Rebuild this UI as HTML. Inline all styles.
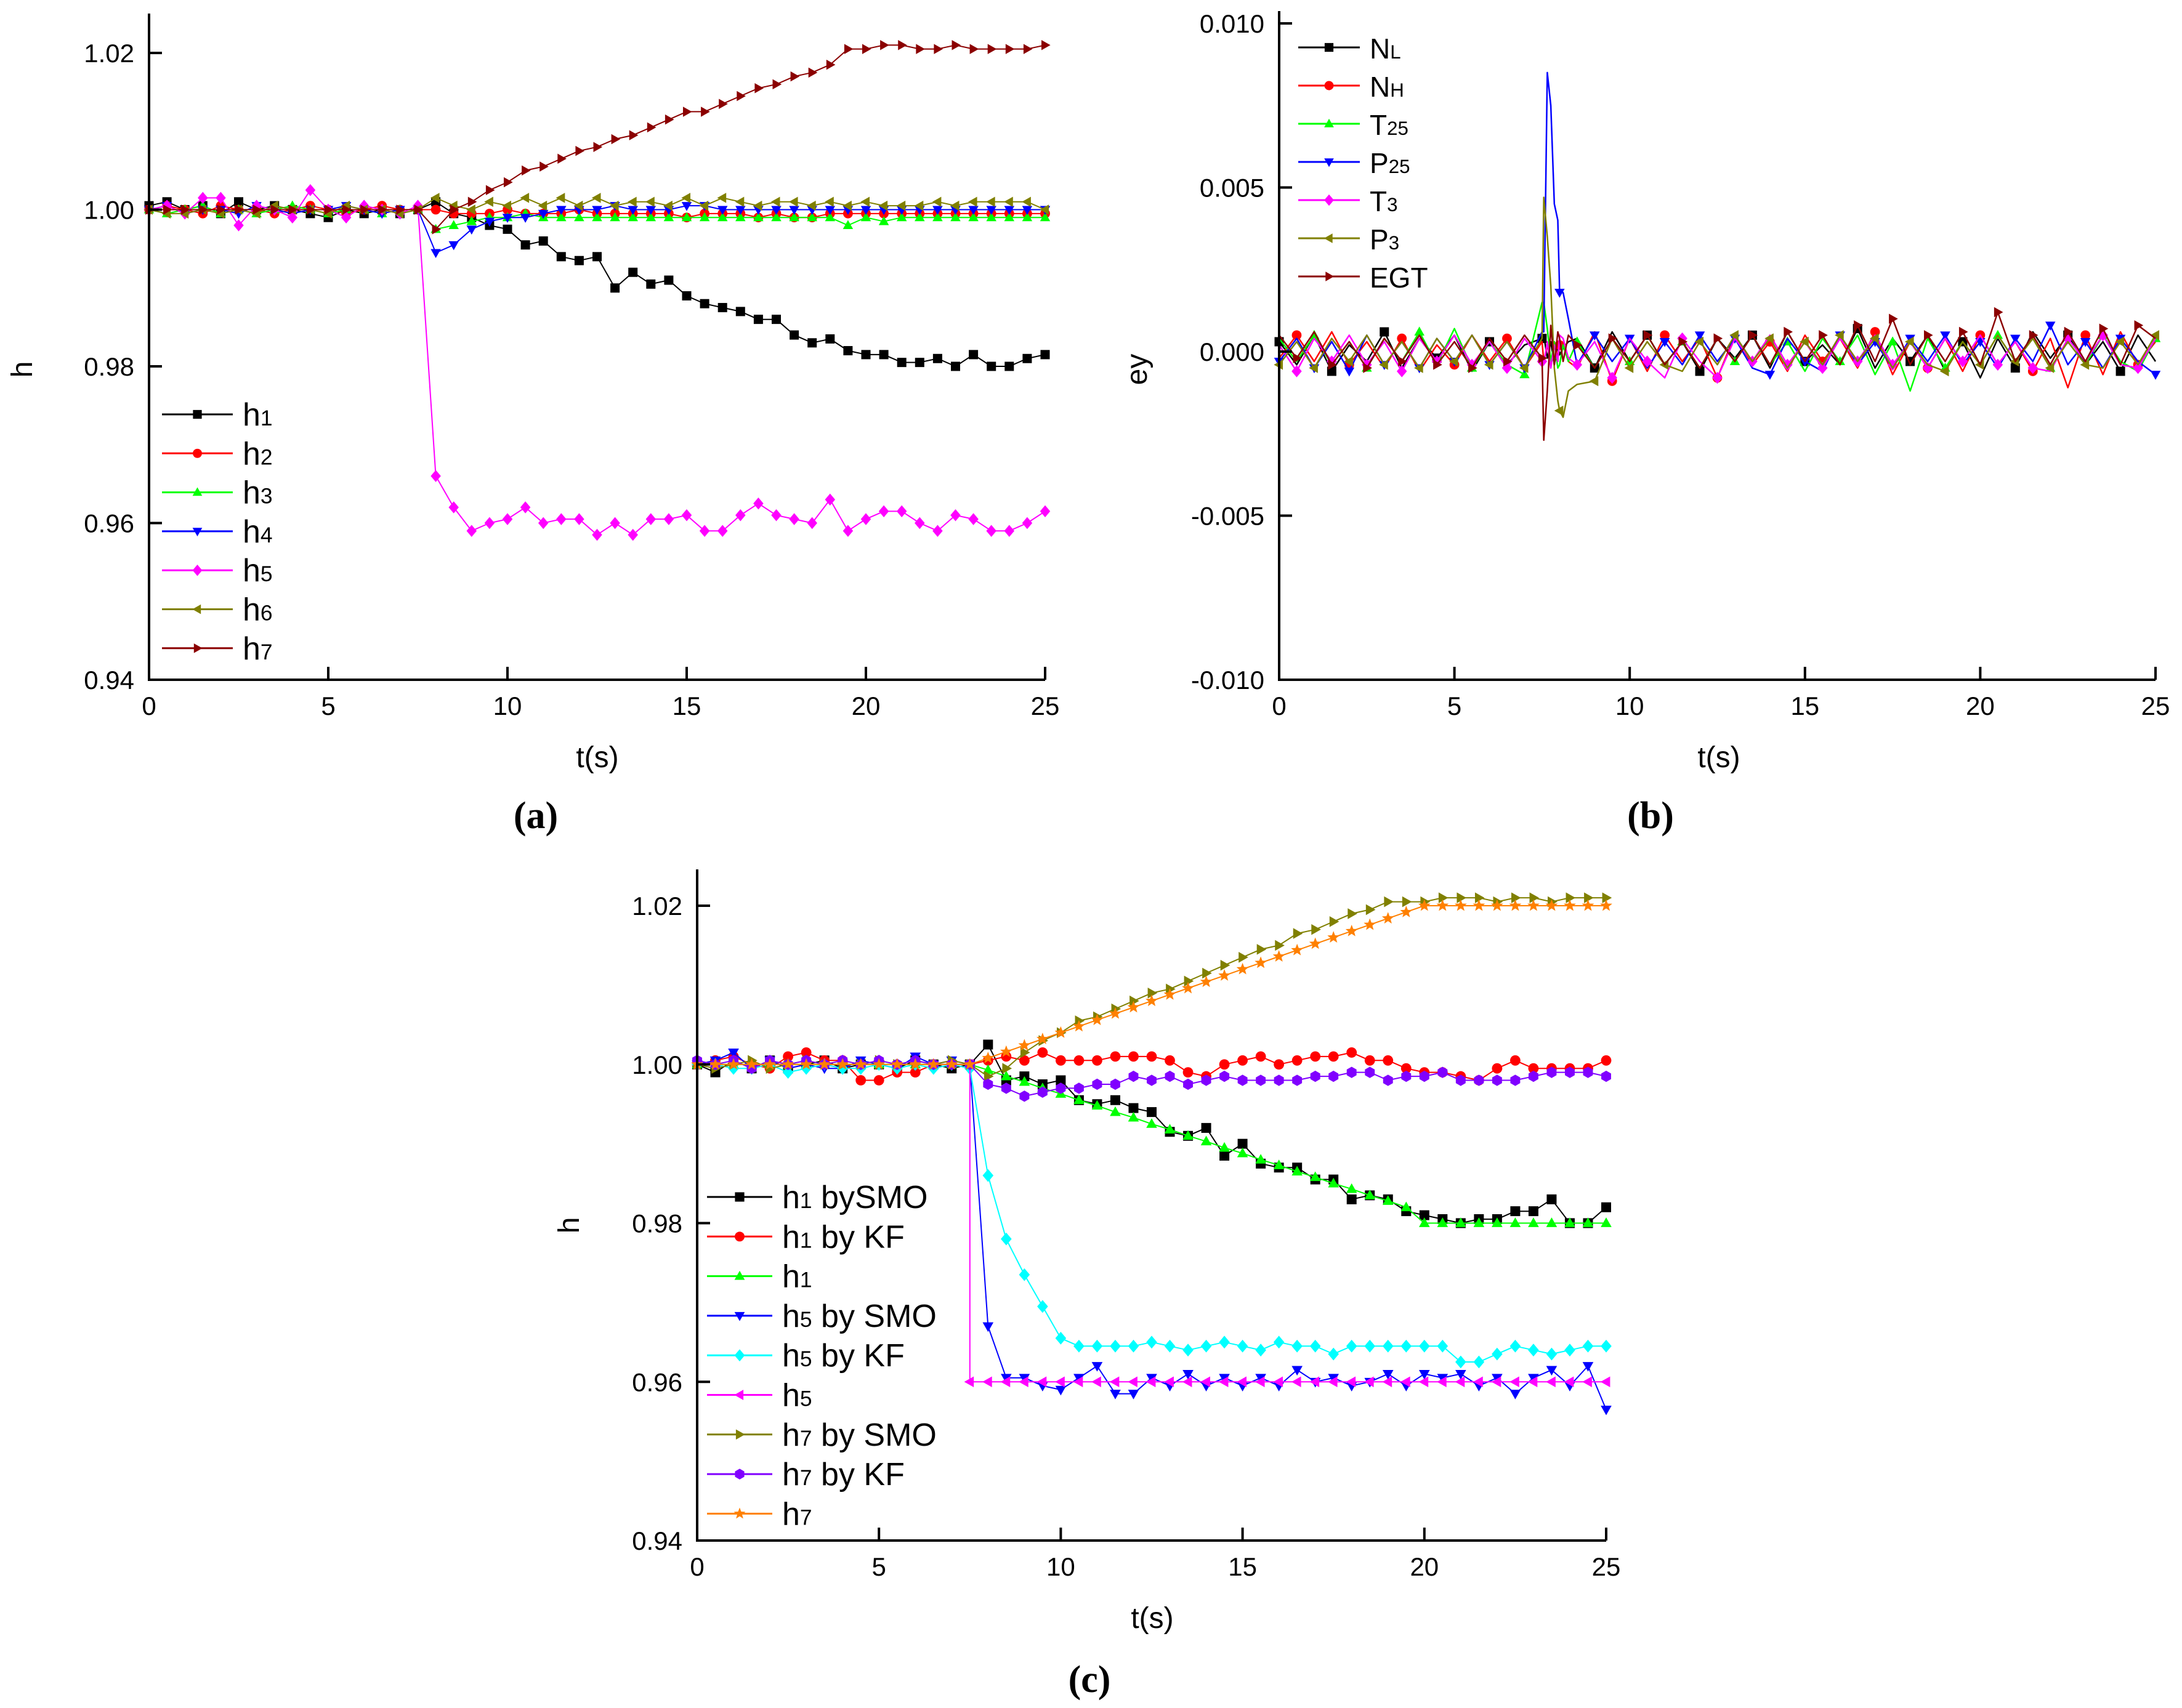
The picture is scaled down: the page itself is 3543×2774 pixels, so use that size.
<!DOCTYPE html>
<html><head><meta charset="utf-8">
<style>
html,body{margin:0;padding:0;background:#fff;}
svg{display:block;font-family:"Liberation Sans",sans-serif;}
</style></head>
<body>
<svg id="fig" width="3543" height="2774" viewBox="0 0 3543 2774" xmlns="http://www.w3.org/2000/svg">
<rect x="0" y="0" width="3543" height="2774" fill="#fff"/>
</svg>
<script>
// ---------- shared categories ----------
const xTicks = [0, 5, 10, 15, 20, 25];
const xTickLabels = ["0", "5", "10", "15", "20", "25"];
const hTicks = [0.94, 0.96, 0.98, 1.00, 1.02];
const hTickLabels = ["0.94", "0.96", "0.98", "1.00", "1.02"];
const eyTicks = [-0.010, -0.005, 0.000, 0.005, 0.010];
const eyTickLabels = ["-0.010", "-0.005", "0.000", "0.005", "0.010"];
// time samples every 0.5 s (0..25)
const tSamples = [0,0.5,1,1.5,2,2.5,3,3.5,4,4.5,5,5.5,6,6.5,7,7.5,8,8.5,9,9.5,10,10.5,11,11.5,12,12.5,13,13.5,14,14.5,15,15.5,16,16.5,17,17.5,18,18.5,19,19.5,20,20.5,21,21.5,22,22.5,23,23.5,24,24.5,25];

// ---------- panel (a) values ----------
const aH1 = [1.0005,1.001,1.0,1.0005,0.9995,1.001,1.0,1.0005,1.0,0.9995,0.999,1.0,0.9995,1.0,0.9995,1.0,1.001,0.9995,0.999,0.998,0.9975,0.9955,0.996,0.994,0.9935,0.994,0.990,0.992,0.9905,0.991,0.989,0.988,0.9875,0.987,0.986,0.986,0.984,0.983,0.9835,0.982,0.9815,0.9815,0.9805,0.9805,0.981,0.980,0.9815,0.980,0.980,0.981,0.9815];
const aH2 = [1.0,1.0005,1.0,0.9995,1.0005,1.0,1.0,0.9995,1.0,1.0005,1.0,0.9995,1.0,1.0005,1.0,1.0,1.0,0.9995,0.9995,0.9995,1.0,0.9995,0.9995,0.9995,1.0,0.9995,0.9995,0.9995,0.9995,0.9995,0.999,0.9995,0.9995,0.9995,0.999,0.9995,0.999,0.999,0.9995,0.9995,0.9995,0.9995,0.9995,0.9995,0.9995,0.9995,0.9995,0.9995,0.9995,0.9995,0.9995];
const aH3 = [1.0,0.9995,1.0,1.0005,0.9995,1.0,0.9995,1.0,1.0005,1.0,0.9995,1.0,1.0,0.9995,1.0,1.0,0.9975,0.998,0.9985,0.999,0.999,0.9995,0.999,0.999,0.999,0.999,0.999,0.999,0.999,0.999,0.999,0.999,0.999,0.999,0.999,0.999,0.999,0.999,0.999,0.998,0.999,0.9985,0.999,0.999,0.999,0.999,0.999,0.999,0.999,0.999,0.999];
const aH4 = [1.0,1.0005,0.9995,1.0,1.0,0.9995,1.0005,1.0,0.9995,1.0,1.0,1.0005,1.0,0.9995,1.0,1.0,0.9945,0.9955,0.9975,0.9985,0.999,0.999,0.9995,1.0,1.0,1.0,1.0005,1.0,1.0,1.0,1.0005,1.0005,1.0,1.0,1.0,1.0,1.0,1.0,1.0,1.0,1.0,1.0,1.0,1.0,1.0,1.0,1.0,1.0,1.0,1.0,1.0];
const aH5 = [1.0,1.0005,0.9995,1.0015,1.0015,0.998,1.0005,1.0,0.999,1.0025,1.0,0.999,1.0005,1.0,0.9995,1.0005,0.966,0.962,0.959,0.960,0.9605,0.962,0.960,0.9605,0.9605,0.9585,0.960,0.9585,0.9605,0.9605,0.961,0.959,0.959,0.961,0.9625,0.961,0.9605,0.960,0.963,0.959,0.9605,0.9615,0.9615,0.960,0.959,0.961,0.9605,0.959,0.959,0.960,0.9615];
const aH6 = [1.0,0.9995,0.9995,1.0,0.9995,1.0,0.9995,1.0005,1.0,1.0,0.9995,1.0005,1.0,1.0,0.9995,1.0,1.0015,1.0005,1.0,1.001,1.0005,1.0015,1.0005,1.0015,1.0005,1.0015,1.0005,1.001,1.001,1.0005,1.0015,1.0005,1.0015,1.001,1.0005,1.001,1.001,1.0005,1.001,1.0005,1.001,1.0005,1.0005,1.0005,1.001,1.0005,1.001,1.001,1.001,1.001,1.0];
const aH7 = [1.0,1.0,1.0,1.0,1.0,1.0,1.0,1.0,1.0,1.0,1.0,1.0,1.0,1.0,1.0,1.0,0.9975,1.0,1.001,1.0025,1.0035,1.005,1.0055,1.0065,1.0075,1.008,1.009,1.0095,1.0105,1.0115,1.0125,1.0125,1.0135,1.0145,1.0155,1.016,1.017,1.0175,1.0185,1.0205,1.0205,1.021,1.021,1.0205,1.0205,1.021,1.0205,1.0205,1.0205,1.0205,1.021];

// ---------- panel (b) values ----------
const bNL  = [0.0003,-0.0004,0.0005,-0.0006,0.0002,-0.0003,0.0006,-0.0005,0.0004,-0.0002,0.0005,-0.0006,0.0003,-0.0004,0.0002,0.0004,-0.0001,0.0004,-0.0005,0.0006,-0.0003,0.0005,-0.0004,0.0003,-0.0006,0.0004,-0.0002,0.0005,-0.0005,0.0006,-0.0003,0.0002,-0.0004,0.0007,-0.0005,0.0004,-0.0003,0.0005,-0.0006,0.0003,-0.0008,0.0004,-0.0005,0.0006,-0.0002,0.0005,-0.0004,0.0003,-0.0006,0.0005,-0.0003];
const bNH  = [-0.0002,0.0005,-0.0003,0.0006,-0.0004,0.0003,-0.0005,0.0004,-0.0006,0.0002,-0.0004,0.0005,-0.0003,0.0004,-0.0005,0.0003,0.0002,-0.0005,0.0006,-0.0009,0.0004,-0.0006,0.0005,-0.0003,0.0004,-0.0008,0.0005,-0.0004,0.0003,-0.0006,0.0005,-0.0003,0.0004,-0.0005,0.0006,-0.0007,0.0003,-0.0005,0.0004,-0.0006,0.0005,-0.0004,0.0003,-0.0006,0.0004,-0.0011,0.0005,-0.0007,0.0006,-0.0004,0.0003];
const bT25 = [0.0004,-0.0003,0.0005,-0.0004,0.0003,-0.0005,0.0004,-0.0003,0.0006,-0.0004,0.0007,-0.0005,0.0003,-0.0004,-0.0007,0.0015,-0.0004,0.0003,-0.0005,0.0004,-0.0003,0.0005,-0.0004,0.0003,-0.0005,0.0004,-0.0003,0.0005,-0.0004,0.0003,-0.0006,0.0004,-0.0003,0.0005,-0.0007,0.0003,-0.0012,0.0004,-0.0005,0.0003,-0.0004,0.0005,-0.0003,0.0004,-0.0005,0.0003,-0.0004,0.0005,-0.0003,-0.0006,0.0004];
const bP25 = [-0.0003,0.0004,-0.0005,0.0003,-0.0006,0.0005,-0.0004,0.0003,-0.0005,0.0004,-0.0003,0.0005,-0.0004,0.0003,-0.0005,0.0006,0.0018,-0.0004,0.0005,-0.0003,0.0004,-0.0005,0.0003,-0.0004,0.0005,-0.0003,0.0004,-0.0005,-0.0007,0.0004,-0.0003,-0.0006,0.0005,-0.0004,0.0003,-0.0005,0.0004,-0.0003,0.0005,-0.0004,0.0003,-0.0005,0.0004,-0.0003,0.0008,-0.0004,0.0003,-0.0005,0.0004,-0.0003,-0.0007];
const bT3  = [0.0002,-0.0006,0.0004,-0.0003,0.0005,-0.0004,0.0003,-0.0006,0.0004,-0.0003,0.0005,-0.0004,0.0003,-0.0005,0.0004,-0.0003,0.0005,-0.0004,0.0003,-0.0008,0.0004,-0.0003,-0.0008,0.0004,-0.0003,-0.0008,0.0004,-0.0003,0.0005,-0.0004,0.0003,-0.0005,0.0004,-0.0003,0.0005,-0.0004,0.0003,-0.0005,0.0004,-0.0003,0.0005,-0.0004,0.0003,-0.0005,-0.0006,0.0004,-0.0003,0.0005,-0.0004,-0.0005,0.0004];
const bP3  = [-0.0004,0.0003,-0.0005,0.0004,-0.0003,0.0005,-0.0004,0.0003,-0.0005,0.0004,-0.0003,0.0005,-0.0004,0.0003,-0.0005,0.0004,-0.0018,-0.0010,-0.0009,0.0004,-0.0005,0.0003,-0.0004,-0.0006,0.0003,-0.0004,0.0005,-0.0003,0.0004,-0.0005,0.0003,-0.0004,0.0005,-0.0003,0.0004,-0.0005,0.0003,-0.0004,-0.0006,0.0003,-0.0004,0.0005,-0.0003,0.0004,-0.0005,0.0003,-0.0004,-0.0005,0.0003,-0.0004,0.0005];
const bEGT = [0.0005,-0.0002,0.0006,-0.0004,0.0003,-0.0005,0.0004,-0.0003,0.0005,-0.0004,0.0003,-0.0005,0.0004,-0.0003,0.0005,-0.0002,0.0004,0.0002,-0.0005,0.0004,-0.0003,0.0005,-0.0004,0.0003,-0.0005,0.0004,-0.0003,0.0005,-0.0004,0.0006,-0.0003,0.0005,-0.0004,0.0008,-0.0003,0.0010,-0.0004,0.0005,-0.0003,0.0006,-0.0004,0.0012,-0.0003,0.0005,-0.0004,0.0006,-0.0003,0.0007,-0.0004,0.0008,0.0004];
// spike near fault onset
const spikeT    = [7.55, 7.65, 7.75, 7.85, 7.95, 8.1, 8.25];
const spikeNL   = [0.0005, -0.0002, 0.0003, -0.0004, 0.0002, 0.0001, 0.0003];
const spikeNH   = [-0.0003, 0.0002, -0.0004, 0.0003, -0.0002, 0.0002, -0.0003];
const spikeT25  = [0.0015, 0.0007, -0.0003, 0.0003, -0.0005, 0.0002, -0.0003];
const spikeP25  = [0.0006, 0.0085, 0.0075, 0.0045, 0.0040, 0.0018, 0.0010];
const spikeT3   = [-0.0004, 0.0003, -0.0005, 0.0002, -0.0003, 0.0004, -0.0002];
const spikeP3   = [0.0047, 0.0035, 0.0020, -0.0005, -0.0015, -0.0020, -0.0012];
const spikeEGT  = [-0.0027, -0.0012, 0.0008, -0.0004, 0.0006, -0.0003, 0.0005];

// ---------- panel (c) values ----------
const cH1SMO = [1.0,0.999,1.0005,0.9995,1.0005,0.9995,1.0,1.0005,0.9995,1.0,1.0,0.9995,1.0005,1.0,0.9995,1.0,1.0025,0.998,0.9985,0.9975,0.998,0.9955,0.995,0.9955,0.9945,0.994,0.9915,0.991,0.992,0.9885,0.990,0.9875,0.987,0.987,0.9855,0.9855,0.983,0.9835,0.983,0.9815,0.981,0.9805,0.980,0.9805,0.9805,0.9815,0.9815,0.983,0.980,0.980,0.982];
const cH1KF  = [1.0,1.0005,1.001,1.0,0.9995,1.001,1.0015,1.0005,1.0005,0.998,0.998,0.999,0.999,1.0,1.0,1.0,1.0005,1.001,1.0005,1.0015,1.0005,1.0005,1.0005,1.001,1.001,1.001,1.0005,0.999,0.9985,1.0,1.0005,1.001,1.0,1.0005,1.001,1.001,1.0015,1.0005,1.0005,0.9995,0.999,0.999,0.9985,0.998,0.9995,1.0005,0.9995,0.9995,0.9995,0.9995,1.0005];
const cH1    = [1.0,1.0,1.0,1.0,1.0,1.0,1.0,1.0,1.0,1.0,1.0,1.0,1.0,1.0,1.0,1.0,0.9993,0.9985,0.9978,0.997,0.9963,0.9955,0.9948,0.994,0.9933,0.9925,0.9918,0.991,0.9903,0.9895,0.9888,0.988,0.9873,0.9865,0.9858,0.985,0.9843,0.9835,0.9828,0.982,0.980,0.980,0.980,0.980,0.980,0.980,0.980,0.980,0.980,0.980,0.980];
const cH5SMO = [1.0,1.0005,1.0015,0.9995,1.0005,0.9995,1.0,0.9995,0.9995,1.0005,1.0,0.9995,1.001,1.0,1.0005,1.0,0.967,0.9605,0.9605,0.9595,0.959,0.9605,0.962,0.9585,0.9585,0.9605,0.9595,0.961,0.9595,0.9605,0.9595,0.9605,0.9595,0.9615,0.960,0.9605,0.9595,0.960,0.961,0.9595,0.961,0.9605,0.961,0.9595,0.9605,0.9585,0.9605,0.9615,0.9595,0.962,0.9565];
const cH5KF  = [1.0,1.0,0.9995,0.9995,1.0,0.999,0.9995,1.0,0.9995,0.9995,1.0,0.9995,1.0,0.9995,1.0,0.9995,0.986,0.978,0.9735,0.9695,0.9655,0.9645,0.9645,0.9645,0.9645,0.965,0.9645,0.964,0.9645,0.965,0.9645,0.964,0.965,0.9645,0.9645,0.9635,0.9645,0.9645,0.9645,0.9645,0.9645,0.9645,0.9625,0.9625,0.9635,0.9645,0.964,0.9635,0.964,0.9645,0.9645];
const cH5T   = [7.5,7.5,8,8.5,9,9.5,10,10.5,11,11.5,12,12.5,13,13.5,14,14.5,15,15.5,16,16.5,17,17.5,18,18.5,19,19.5,20,20.5,21,21.5,22,22.5,23,23.5,24,24.5,25];
const cH5    = [1.0,0.96,0.96,0.96,0.96,0.96,0.96,0.96,0.96,0.96,0.96,0.96,0.96,0.96,0.96,0.96,0.96,0.96,0.96,0.96,0.96,0.96,0.96,0.96,0.96,0.96,0.96,0.96,0.96,0.96,0.96,0.96,0.96,0.96,0.96,0.96,0.96];
const cH7SMO = [1.0,0.9995,1.0,1.0005,0.9995,1.0,1.0005,1.0,1.0,1.0,1.0005,1.0,1.0,1.0,1.0005,1.0,0.9985,0.9995,1.0015,1.003,1.004,1.0055,1.006,1.007,1.008,1.009,1.0095,1.0105,1.0115,1.0125,1.0135,1.0145,1.015,1.0165,1.017,1.018,1.019,1.0195,1.0205,1.0205,1.0205,1.021,1.021,1.021,1.0205,1.021,1.021,1.0205,1.021,1.021,1.021];
const cH7KF  = [1.0005,1.0,1.0005,0.9995,1.0005,1.0,1.0005,1.0,1.0005,1.0,1.0005,1.0,1.0005,1.0,1.0,1.0,0.9975,0.997,0.996,0.9965,0.997,0.997,0.9975,0.9975,0.9985,0.998,0.9985,0.9975,0.998,0.9985,0.998,0.998,0.998,0.998,0.9985,0.9985,0.999,0.999,0.998,0.9985,0.9985,0.999,0.998,0.998,0.998,0.998,0.9985,0.999,0.999,0.999,0.9985];
const cH7    = [1.0,1.0,1.0,1.0,1.0,1.0,1.0,1.0,1.0,1.0,1.0,1.0,1.0,1.0,1.0,1.0,1.0008,1.0016,1.0024,1.0032,1.004,1.0048,1.0056,1.0064,1.0072,1.008,1.0088,1.0096,1.0104,1.0112,1.012,1.0128,1.0136,1.0144,1.0152,1.016,1.0168,1.0176,1.0184,1.0192,1.020,1.020,1.020,1.020,1.020,1.020,1.020,1.020,1.020,1.020,1.020];

// ---------- rendering ----------
const NS = "http://www.w3.org/2000/svg";
const svg = document.getElementById("fig");
function mk(tag, attrs, parent) {
  const e = document.createElementNS(NS, tag);
  for (const k in attrs) e.setAttribute(k, attrs[k]);
  (parent || svg).appendChild(e);
  return e;
}
function markerPath(shape, x, y, r) {
  const p = [];
  if (shape === "square") return `M${x-r},${y-r}h${2*r}v${2*r}h${-2*r}z`;
  if (shape === "up") return `M${x},${y-r*1.15}L${x+r*1.1},${y+r*0.8}L${x-r*1.1},${y+r*0.8}z`;
  if (shape === "down") return `M${x},${y+r*1.15}L${x+r*1.1},${y-r*0.8}L${x-r*1.1},${y-r*0.8}z`;
  if (shape === "left") return `M${x-r*1.15},${y}L${x+r*0.8},${y-r*1.1}L${x+r*0.8},${y+r*1.1}z`;
  if (shape === "right") return `M${x+r*1.15},${y}L${x-r*0.8},${y-r*1.1}L${x-r*0.8},${y+r*1.1}z`;
  if (shape === "diamond") return `M${x},${y-r*1.3}L${x+r*1.1},${y}L${x},${y+r*1.3}L${x-r*1.1},${y}z`;
  if (shape === "hex") { for (let i=0;i<6;i++){const a=Math.PI/6+i*Math.PI/3;p.push((i?"L":"M")+(x+r*1.15*Math.cos(a))+","+(y+r*1.15*Math.sin(a)));} return p.join("")+"z"; }
  if (shape === "star") { for (let i=0;i<10;i++){const a=-Math.PI/2+i*Math.PI/5;const rr=i%2?r*0.55:r*1.3;p.push((i?"L":"M")+(x+rr*Math.cos(a))+","+(y+rr*Math.sin(a)));} return p.join("")+"z"; }
  return "";
}
function drawMarker(g, shape, x, y, r, color) {
  if (shape === "circle") return mk("circle", {cx:x, cy:y, r:r*1.05, fill:color}, g);
  return mk("path", {d:markerPath(shape, x, y, r), fill:color}, g);
}

function panel(cfg) {
  const g = mk("g", {});
  
  
  const sx = v => cfg.x0 + (v - 0) / 25 * (cfg.x1 - cfg.x0);
  const sy = v => cfg.yb + (v - cfg.ymin) / (cfg.ymax - cfg.ymin) * (cfg.yt - cfg.yb);
  cfg.series.forEach(s => {
    const sg = mk("g", {}, g);
    
    
    let pts = s.t.map((t, i) => [t, s.v[i]]);
    if (s.extraT) { s.extraT.forEach((t, i) => pts.push([t, s.extraV[i]])); pts.sort((a, b) => a[0] - b[0]); }
    const d = pts.map((p, i) => (i ? "L" : "M") + sx(p[0]).toFixed(1) + "," + sy(p[1]).toFixed(1)).join("");
    const line = mk("path", {d:d, fill:"none", stroke:s.color, "stroke-width":cfg.lw, "stroke-linejoin":"round"}, sg);
    
    
    s.t.forEach((t, i) => {
      if (i % s.every !== s.off) return;
      const m = drawMarker(sg, s.shape, sx(t), sy(s.v[i]), cfg.mr, s.color);
      
      
    });
  });
  const ax = mk("path", {d:`M${cfg.x0},${cfg.ytop}V${cfg.yb}H${cfg.x1}`, fill:"none", stroke:"#000", "stroke-width":4}, g);
  
  
  xTicks.forEach((v, i) => {
    const t = mk("line", {x1:sx(v), x2:sx(v), y1:cfg.yb, y2:cfg.yb - 21, stroke:"#000", "stroke-width":4}, g);
    
    
    const l = mk("text", {x:sx(v), y:cfg.yb + 57, "font-size":42, "text-anchor":"middle", fill:"#000"}, g);
    
    
    l.textContent = xTickLabels[i];
  });
  cfg.yTicks.forEach((v, i) => {
    const t = mk("line", {x1:cfg.x0, x2:cfg.x0 + 21, y1:sy(v), y2:sy(v), stroke:"#000", "stroke-width":4}, g);
    
    
    const l = mk("text", {x:cfg.x0 - 24, y:sy(v) + 15, "font-size":42, "text-anchor":"end", fill:"#000"}, g);
    
    
    l.textContent = cfg.yTickLabels[i];
  });
  const xt = mk("text", {x:cfg.xtX, y:cfg.yb + 142, "font-size":48, "text-anchor":"middle"}, g);
  
  
  xt.textContent = "t(s)";
  const yt = mk("text", {x:0, y:0, "font-size":48, "text-anchor":"middle", transform:`translate(${cfg.ytX},${cfg.ytY}) rotate(-90)`}, g);
  
  
  yt.textContent = cfg.ytitle;
  const pl = mk("text", {x:cfg.plX, y:cfg.plY, "font-size":62, "font-weight":"bold", "text-anchor":"middle", "font-family":"'Liberation Serif',serif"}, g);
  
  
  pl.textContent = cfg.label;
  const lg = mk("g", {}, g);
  
  
  cfg.series.forEach((s, i) => {
    const y = cfg.lgY + i * cfg.lgDy;
    const eg = mk("g", {}, lg);
    
    
    mk("line", {x1:cfg.lgX0, x2:cfg.lgX1, y1:y, y2:y, stroke:s.color, "stroke-width":3}, eg);
    drawMarker(eg, s.shape, (cfg.lgX0 + cfg.lgX1) / 2, y, cfg.mr * 0.95, s.color);
    const tx = mk("text", {x:cfg.lgX1 + 16, y:y + 18, "font-size":cfg.lgFs}, eg);
    const a = mk("tspan", {}, tx); a.textContent = s.lab[0];
    const b = mk("tspan", {"font-size":cfg.lgFs * 0.68}, tx); b.textContent = s.lab[1];
    if (s.lab[2]) { const c = mk("tspan", {}, tx); c.textContent = s.lab[2]; }
  });
}

panel({
  name:"panel-a", label:"(a)", x0:242, x1:1697, yt:86, yb:1104, ytop:22, ymin:0.94, ymax:1.02,
  yTicks:hTicks, yTickLabels:hTickLabels, ytitle:"h", ytX:52, ytY:600, xtX:970, plX:870, plY:1345,
  lw:2, mr:7.5, lgX0:263, lgX1:378, lgY:673, lgDy:63.3, lgFs:52,
  series:[
    {id:"h1", lab:["h","1"], color:"#000000", shape:"square", t:tSamples, v:aH1, every:1, off:0},
    {id:"h2", lab:["h","2"], color:"#ff0000", shape:"circle", t:tSamples, v:aH2, every:1, off:0},
    {id:"h3", lab:["h","3"], color:"#00ff00", shape:"up", t:tSamples, v:aH3, every:1, off:0},
    {id:"h4", lab:["h","4"], color:"#0000ff", shape:"down", t:tSamples, v:aH4, every:1, off:0},
    {id:"h5", lab:["h","5"], color:"#ff00ff", shape:"diamond", t:tSamples, v:aH5, every:1, off:0},
    {id:"h6", lab:["h","6"], color:"#808000", shape:"left", t:tSamples, v:aH6, every:1, off:0},
    {id:"h7", lab:["h","7"], color:"#8b0000", shape:"right", t:tSamples, v:aH7, every:1, off:0}
  ]
});
panel({
  name:"panel-b", label:"(b)", x0:2077, x1:3500, yt:38, yb:1104, ytop:18, ymin:-0.010, ymax:0.010,
  yTicks:eyTicks, yTickLabels:eyTickLabels, ytitle:"ey", ytX:1862, ytY:600, xtX:2791, plX:2680, plY:1345,
  lw:2.5, mr:7.5, lgX0:2108, lgX1:2208, lgY:77, lgDy:62, lgFs:46,
  series:[
    {id:"NL", lab:["N","L"], color:"#000000", shape:"square", t:tSamples, v:bNL, extraT:spikeT, extraV:spikeNL, every:3, off:0},
    {id:"NH", lab:["N","H"], color:"#ff0000", shape:"circle", t:tSamples, v:bNH, extraT:spikeT, extraV:spikeNH, every:3, off:1},
    {id:"T25", lab:["T","25"], color:"#00ff00", shape:"up", t:tSamples, v:bT25, extraT:spikeT, extraV:spikeT25, every:3, off:2},
    {id:"P25", lab:["P","25"], color:"#0000ff", shape:"down", t:tSamples, v:bP25, extraT:spikeT, extraV:spikeP25, every:2, off:0},
    {id:"T3", lab:["T","3"], color:"#ff00ff", shape:"diamond", t:tSamples, v:bT3, extraT:spikeT, extraV:spikeT3, every:2, off:1},
    {id:"P3", lab:["P","3"], color:"#808000", shape:"left", t:tSamples, v:bP3, extraT:spikeT, extraV:spikeP3, every:2, off:0},
    {id:"EGT", lab:["EGT",""], color:"#8b0000", shape:"right", t:tSamples, v:bEGT, extraT:spikeT, extraV:spikeEGT, every:2, off:1}
  ]
});
panel({
  name:"panel-c", label:"(c)", x0:1132, x1:2608, yt:1471, yb:2502, ytop:1412, ymin:0.94, ymax:1.02,
  yTicks:hTicks, yTickLabels:hTickLabels, ytitle:"h", ytX:940, ytY:1990, xtX:1871, plX:1769, plY:2748,
  lw:2, mr:8, lgX0:1148, lgX1:1254, lgY:1944, lgDy:64.3, lgFs:52,
  series:[
    {id:"h1-smo", lab:["h","1"," bySMO"], color:"#000000", shape:"square", t:tSamples, v:cH1SMO, every:1, off:0},
    {id:"h1-kf", lab:["h","1"," by KF"], color:"#ff0000", shape:"circle", t:tSamples, v:cH1KF, every:1, off:0},
    {id:"h1-true", lab:["h","1"], color:"#00ff00", shape:"up", t:tSamples, v:cH1, every:1, off:0},
    {id:"h5-smo", lab:["h","5"," by SMO"], color:"#0000ff", shape:"down", t:tSamples, v:cH5SMO, every:1, off:0},
    {id:"h5-kf", lab:["h","5"," by KF"], color:"#00ffff", shape:"diamond", t:tSamples, v:cH5KF, every:1, off:0},
    {id:"h5-true", lab:["h","5"], color:"#ff00ff", shape:"left", t:cH5T, v:cH5, every:1, off:0},
    {id:"h7-smo", lab:["h","7"," by SMO"], color:"#808000", shape:"right", t:tSamples, v:cH7SMO, every:1, off:0},
    {id:"h7-kf", lab:["h","7"," by KF"], color:"#8000ff", shape:"hex", t:tSamples, v:cH7KF, every:1, off:0},
    {id:"h7-true", lab:["h","7"], color:"#ff8000", shape:"star", t:tSamples, v:cH7, every:1, off:0}
  ]
});
</script>
</body></html>
